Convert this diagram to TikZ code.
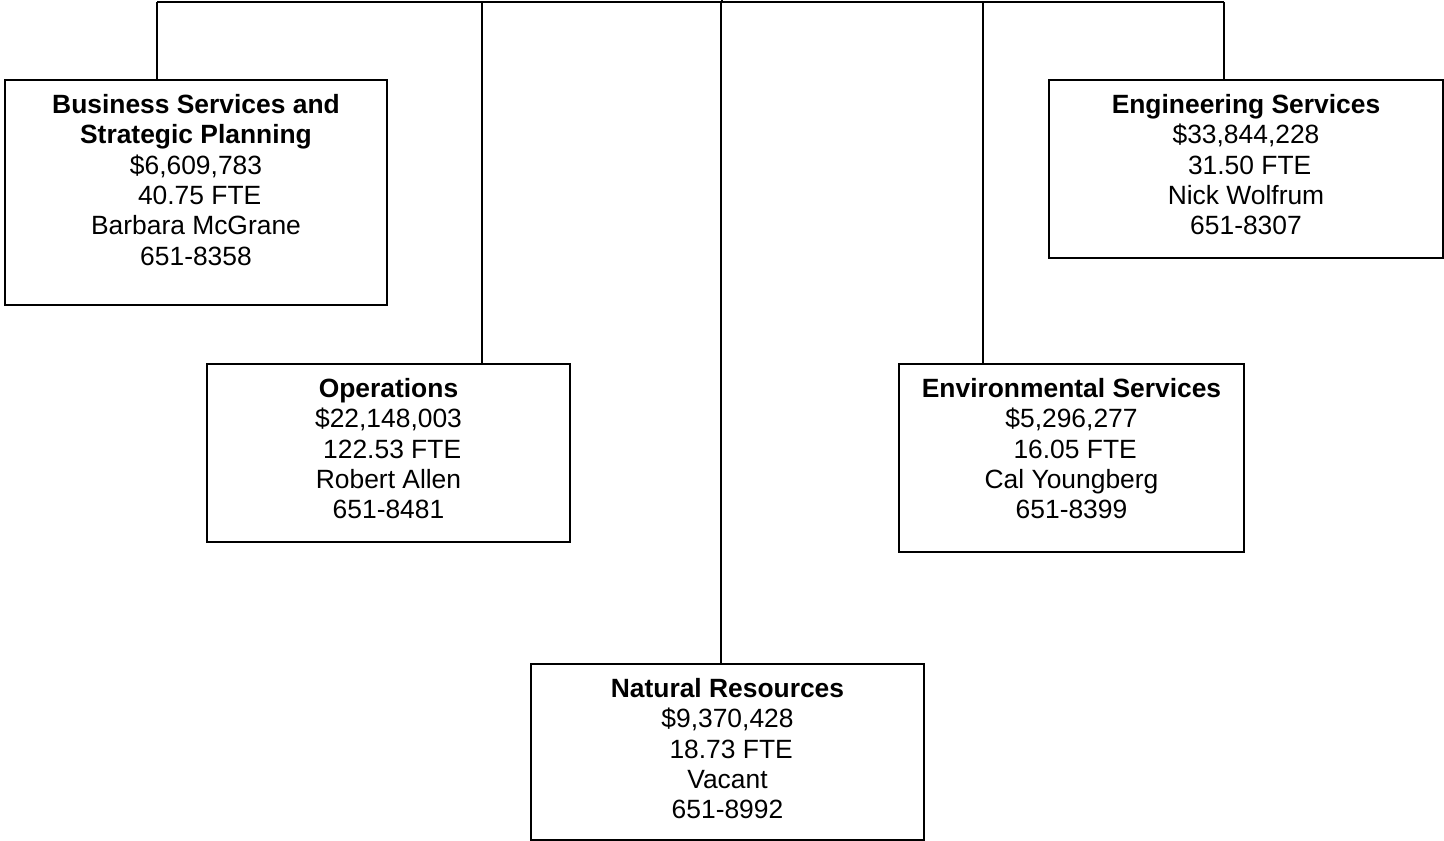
\documentclass[tikz,border=0pt]{standalone}
\usepackage{fontspec}
\setmainfont{Liberation Sans}
\begin{document}
\begin{tikzpicture}[x=1pt,y=-1pt,
  box/.style={draw, line width=2pt, inner sep=0pt, anchor=north west},
  txt/.style={anchor=north, inner sep=0pt, align=center,
    font=\fontsize{26.4}{30.4}\selectfont, yshift=-15pt},
  conn/.style={line width=1.8pt}]
\useasboundingbox (0,0) rectangle (1444,841);
% boxes
\node[box, minimum width=382pt, minimum height=225pt] (bs) at (4,79) {};
\node[box, minimum width=363pt, minimum height=178pt] (ops) at (206,363) {};
\node[box, minimum width=393pt, minimum height=176pt] (nat) at (530,663) {};
\node[box, minimum width=345pt, minimum height=188pt] (env) at (898,363) {};
\node[box, minimum width=394pt, minimum height=178pt] (eng) at (1048,79) {};
% texts
\node[txt] (bst) at (bs.north) {\textbf{Business Services and}\\\textbf{Strategic Planning}\\\$6,609,783\\\ 40.75 FTE\\Barbara McGrane\\651-8358};
\node[txt] (opst) at (ops.north) {\textbf{Operations}\\\$22,148,003\\\ 122.53 FTE\\Robert Allen\\651-8481};
\node[txt] (natt) at (nat.north) {\textbf{Natural Resources}\\\$9,370,428\\\ 18.73 FTE\\Vacant\\651-8992};
\node[txt] (envt) at (env.north) {\textbf{Environmental Services}\\\$5,296,277\\\ 16.05 FTE\\Cal Youngberg\\651-8399};
\node[txt] (engt) at (eng.north) {\textbf{Engineering Services}\\\$33,844,228\\\ 31.50 FTE\\Nick Wolfrum\\651-8307};
% connectors
\coordinate (c1) at (157,2);
\coordinate (c2) at (482,2);
\coordinate (c3) at (721,2);
\coordinate (c4) at (983,2);
\coordinate (c5) at (1224,2);
\coordinate (up) at (722,0);
\draw[conn] (c1) -- (c5);
\draw[conn] (up) -- (up |- c3);
\draw[conn] (c1) -- (c1 |- bs.north);
\draw[conn] (c2) -- (c2 |- ops.north);
\draw[conn] (c3) -- (c3 |- nat.north);
\draw[conn] (c4) -- (c4 |- env.north);
\draw[conn] (c5) -- (c5 |- eng.north);
\end{tikzpicture}
\end{document}
